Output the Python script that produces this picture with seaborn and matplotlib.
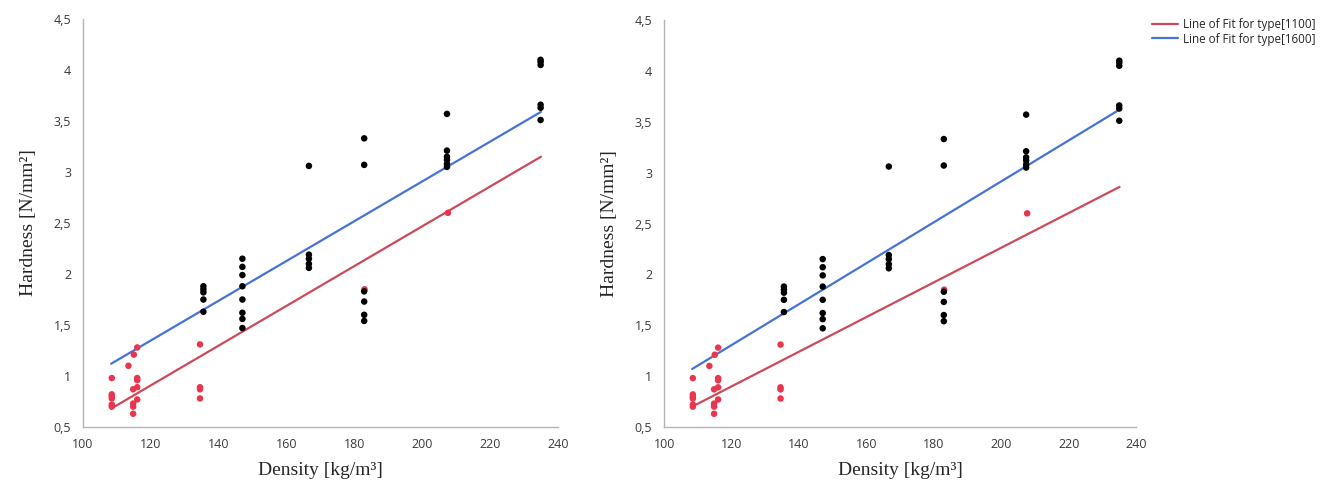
import numpy as np
import pandas as pd
import matplotlib.pyplot as plt
import matplotlib.ticker as mticker
import seaborn as sns

# Measured points (density kg/m3, hardness N/mm2)
dens_1100 = [108.5, 108.5, 108.5, 108.5, 108.5, 108.5, 113.4, 115.0, 116.0,
             114.8, 116.0, 116.0, 116.0, 116.0, 114.8, 114.8, 114.8,
             134.5, 134.5, 134.5, 134.5, 183.0, 207.6]
hard_1100 = [0.98, 0.82, 0.80, 0.78, 0.72, 0.70, 1.10, 1.21, 1.28,
             0.87, 0.98, 0.96, 0.89, 0.77, 0.73, 0.70, 0.63,
             1.31, 0.89, 0.87, 0.78, 1.85, 2.60]

dens_1600 = [135.5, 135.5, 135.5, 135.5, 135.5,
             147.0, 147.0, 147.0, 147.0, 147.0, 147.0, 147.0, 147.0,
             166.6, 166.6, 166.6, 166.6, 166.6,
             182.9, 182.9, 182.9, 182.9, 182.9, 182.9,
             207.3, 207.3, 207.3, 207.3, 207.3, 207.3,
             234.9, 234.9, 234.9, 234.9, 234.9, 234.9]
hard_1600 = [1.88, 1.85, 1.82, 1.75, 1.63,
             2.15, 2.07, 1.99, 1.88, 1.75, 1.62, 1.56, 1.47,
             3.06, 2.19, 2.15, 2.10, 2.06,
             3.33, 3.07, 1.83, 1.73, 1.60, 1.54,
             3.57, 3.21, 3.15, 3.12, 3.08, 3.05,
             4.10, 4.08, 4.05, 3.66, 3.63, 3.51]

# Line of fit endpoints
fit_x = [108.3, 235.0]
left_fit_1100 = [0.68, 3.15]
left_fit_1600 = [1.12, 3.59]
right_fit_1100 = [0.70, 2.86]
right_fit_1600 = [1.07, 3.62]

y_ticks = [0.5, 1, 1.5, 2, 2.5, 3, 3.5, 4, 4.5]
x_ticks = [100, 120, 140, 160, 180, 200, 220, 240]

pts = pd.concat([
    pd.DataFrame({'density': dens_1100, 'hardness': hard_1100, 'type': '1100'}),
    pd.DataFrame({'density': dens_1600, 'hardness': hard_1600, 'type': '1600'}),
])

sns.set_style('white')
plt.rcParams['font.family'] = ['Open Sans', 'DejaVu Sans']

red_dot = '#e8364e'
red_line = '#cc4a5a'
blue_line = '#4673d6'
grey = '#b5b5b5'

fig = plt.figure(figsize=(13.23, 4.88), dpi=100)
ax1 = fig.add_axes([0.0627, 0.125, 0.359, 0.836])
ax2 = fig.add_axes([0.502, 0.125, 0.357, 0.834])


def comma(v, pos):
    s = f'{v:g}'
    return s.replace('.', ',')


for ax, f1100, f1600 in [(ax1, left_fit_1100, left_fit_1600),
                         (ax2, right_fit_1100, right_fit_1600)]:
    sns.scatterplot(data=pts, x='density', y='hardness', hue='type',
                    palette={'1100': red_dot, '1600': 'black'},
                    s=22, edgecolor='none', legend=False, ax=ax, zorder=3)
    sns.lineplot(x=fit_x, y=f1100, color=red_line, lw=1.6, ax=ax, zorder=2,
                 label='Line of Fit for type[1100]')
    sns.lineplot(x=fit_x, y=f1600, color=blue_line, lw=1.6, ax=ax, zorder=2,
                 label='Line of Fit for type[1600]')
    ax.set_xlim(100, 240)
    ax.set_ylim(0.5, 4.5)
    ax.set_xticks(x_ticks)
    ax.set_yticks(y_ticks)
    ax.xaxis.set_minor_locator(mticker.MultipleLocator(10))
    ax.yaxis.set_major_formatter(mticker.FuncFormatter(comma))
    for sp in ['top', 'right']:
        ax.spines[sp].set_visible(False)
    for sp in ['left', 'bottom']:
        ax.spines[sp].set_color(grey)
        ax.spines[sp].set_linewidth(1.0)
    ax.tick_params(axis='both', which='major', length=5, width=0.8, color=grey,
                   labelsize=9, labelcolor='#3a3a3a', direction='out')
    ax.tick_params(axis='x', which='minor', length=3, width=0.8, color=grey,
                   direction='out')
    ax.tick_params(axis='x', pad=3)
    ax.set_xlabel('Density [kg/m³]', family='Liberation Serif', fontsize=14,
                  labelpad=8)
    ax.set_ylabel('Hardness [N/mm²]', family='Liberation Serif', fontsize=14,
                  labelpad=12)
    ax.get_legend().remove()

handles, labels = ax2.get_legend_handles_labels()
fig.legend(handles, labels, loc='upper left', bbox_to_anchor=(0.863, 0.985),
           frameon=False, fontsize=8.4, handlelength=2.2, handletextpad=0.4,
           labelspacing=0.15)

fig.savefig('out.png', dpi=100)
